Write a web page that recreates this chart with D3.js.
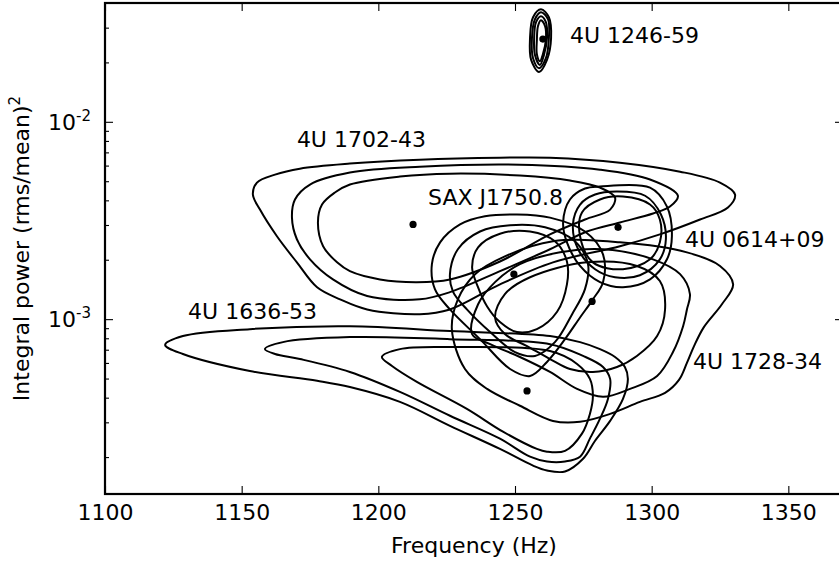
<!DOCTYPE html>
<html>
<head>
<meta charset="utf-8">
<script src="https://cdn.jsdelivr.net/npm/d3@7"></script>
<style>
  body { margin: 0; background: #fff; }
  svg text { font-family: "DejaVu Sans", sans-serif; fill: #000; }
</style>
</head>
<body>
<div id="chart"></div>
<script>
// sources and their best-fit peak (frequency in Hz, integral power)
var sources = ['4U 1246-59', '4U 1702-43', 'SAX J1750.8', '4U 0614+09', '4U 1636-53', '4U 1728-34']
var peakFreq = [1260.2, 1212.7, 1249.6, 1287.7, 1254.4, 1278.2]
var peakPower = [0.02625, 0.00302, 0.00169, 0.00292, 0.000433, 0.00123]

// confidence contours, [freq, power], outer level first
var c1246 = [
  [[1259.5,0.0372],[1262.4,0.0339],[1263.2,0.0266],[1261.7,0.0206],[1258.8,0.0179],[1255.9,0.0206],[1255.5,0.0266],[1256.6,0.0339]],
  [[1259.5,0.0359],[1262.1,0.0331],[1262.4,0.0266],[1261.3,0.0210],[1258.8,0.0187],[1256.6,0.0210],[1256.2,0.0266],[1257.3,0.0331]],
  [[1259.5,0.0343],[1261.3,0.0320],[1261.7,0.0266],[1260.6,0.0218],[1259.1,0.0194],[1257.3,0.0218],[1257.0,0.0266],[1257.7,0.0320]],
  [[1259.5,0.0327],[1261.0,0.0305],[1261.3,0.0260],[1260.2,0.0220],[1259.1,0.0203],[1258.0,0.0220],[1258.0,0.0260],[1258.4,0.0305]]
]

var c1702 = [
  [[1154.1,0.00428],[1155.6,0.00492],[1162.2,0.00540],[1171.3,0.00579],[1189.6,0.00614],[1215.2,0.00643],[1244.5,0.00658],[1262.8,0.00658],[1288.4,0.00621],[1310.4,0.00559],[1325.0,0.00492],[1330.5,0.00428],[1327.9,0.00368],[1317.7,0.00320],[1303.0,0.00269],[1288.4,0.00234],[1263.9,0.00194],[1244.5,0.00150],[1226.2,0.00112],[1215.2,0.00106],[1195.9,0.00112],[1186.0,0.00126],[1177.6,0.00145],[1170.2,0.00194],[1162.9,0.00263],[1156.7,0.00359]],
  [[1168.4,0.00327],[1169.5,0.00404],[1175.0,0.00481],[1189.6,0.00553],[1215.2,0.00592],[1251.8,0.00606],[1281.1,0.00572],[1299.4,0.00510],[1309.6,0.00422],[1306.7,0.00372],[1300.5,0.00343],[1288.4,0.00309],[1276.3,0.00278],[1262.8,0.00226],[1244.5,0.00175],[1226.2,0.00137],[1215.2,0.00126],[1195.9,0.00131],[1183.4,0.00159],[1175.0,0.00201],[1170.2,0.00254]],
  [[1177.9,0.00309],[1179.4,0.00381],[1184.1,0.00438],[1189.6,0.00481],[1207.9,0.00528],[1226.2,0.00546],[1251.8,0.00534],[1270.1,0.00504],[1281.1,0.00464],[1286.6,0.00413],[1284.8,0.00359],[1275.6,0.00320],[1262.8,0.00269],[1244.5,0.00196],[1226.2,0.00159],[1214.1,0.00154],[1200.6,0.00159],[1189.6,0.00175],[1184.9,0.00194],[1179.8,0.00234]]
]

var cSAX = [
  [[1219.6,0.00190],[1222.6,0.00245],[1229.9,0.00302],[1239.0,0.00332],[1250.7,0.00339],[1262.8,0.00327],[1275.6,0.00278],[1282.2,0.00213],[1282.2,0.00154],[1278.5,0.00126],[1273.8,0.00102],[1268.3,0.000792],[1261.7,0.000607],[1255.5,0.000515],[1248.2,0.000559],[1237.2,0.000792],[1226.2,0.00112],[1220.7,0.00142]],
  [[1226.2,0.00169],[1229.1,0.00226],[1237.2,0.00278],[1248.2,0.00299],[1261.0,0.00292],[1271.9,0.00248],[1276.7,0.00190],[1275.6,0.00142],[1270.9,0.00106],[1264.6,0.000765],[1257.3,0.000651],[1250.0,0.000681],[1240.9,0.000860],[1232.4,0.00112],[1227.3,0.00138]],
  [[1234.3,0.00183],[1236.5,0.00231],[1244.5,0.00271],[1255.5,0.00278],[1264.6,0.00248],[1269.0,0.00196],[1269.0,0.00150],[1265.4,0.00109],[1258.0,0.000890],[1250.7,0.000860],[1244.5,0.000966],[1239.8,0.00116],[1236.5,0.00145]]
]

var c0614 = [
  [[1281.1,0.00470],[1299.4,0.00464],[1305.6,0.00372],[1307.4,0.00263],[1305.6,0.00201],[1299.4,0.00159],[1289.5,0.00145],[1281.1,0.00154],[1273.8,0.00186],[1269.0,0.00245],[1267.6,0.00309],[1270.1,0.00404],[1275.6,0.00459]],
  [[1287.3,0.00443],[1297.6,0.00422],[1303.4,0.00339],[1305.2,0.00254],[1303.0,0.00201],[1295.7,0.00167],[1286.6,0.00163],[1279.3,0.00179],[1273.1,0.00226],[1271.2,0.00302],[1273.8,0.00381],[1279.3,0.00428]],
  [[1289.5,0.00418],[1299.4,0.00381],[1303.0,0.00320],[1303.0,0.00245],[1299.4,0.00201],[1289.5,0.00179],[1278.5,0.00194],[1273.8,0.00263],[1274.5,0.00347],[1281.1,0.00404]]
]

var c1636 = [
  [[1122.0,0.000740],[1128.5,0.000821],[1153.0,0.000890],[1189.6,0.000921],[1226.2,0.000870],[1262.8,0.000821],[1273.8,0.000765],[1281.1,0.000705],[1286.6,0.000643],[1290.2,0.000572],[1291.3,0.000498],[1289.5,0.000394],[1284.8,0.000305],[1279.3,0.000242],[1274.9,0.000196],[1268.3,0.000169],[1261.7,0.000171],[1256.6,0.000181],[1244.5,0.000220],[1226.2,0.000288],[1207.9,0.000381],[1189.6,0.000453],[1177.6,0.000487],[1153.0,0.000546],[1128.5,0.000666]],
  [[1158.5,0.000705],[1165.1,0.000765],[1189.6,0.000811],[1226.2,0.000792],[1262.8,0.000747],[1274.9,0.000651],[1282.2,0.000572],[1284.8,0.000498],[1284.0,0.000394],[1281.1,0.000313],[1277.4,0.000248],[1273.8,0.000201],[1268.3,0.000190],[1261.7,0.000190],[1255.5,0.000201],[1244.5,0.000248],[1226.2,0.000324],[1207.9,0.000428],[1189.6,0.000540],[1171.3,0.000628],[1162.2,0.000666]],
  [[1201.3,0.000643],[1207.9,0.000705],[1226.2,0.000722],[1262.8,0.000689],[1272.7,0.000593],[1277.4,0.000498],[1278.5,0.000409],[1277.4,0.000331],[1274.5,0.000263],[1268.3,0.000215],[1261.7,0.000213],[1258.0,0.000220],[1245.6,0.000269],[1232.4,0.000351],[1214.1,0.000481],[1205.0,0.000579]]
]

var c1728 = [
  [[1226.9,0.000890],[1229.1,0.00126],[1235.4,0.00169],[1246.3,0.00208],[1263.9,0.00248],[1288.4,0.00245],[1312.9,0.00218],[1325.0,0.00186],[1329.8,0.00150],[1325.7,0.00119],[1319.1,0.000911],[1315.5,0.000730],[1312.9,0.000600],[1310.0,0.000492],[1304.9,0.000423],[1295.7,0.000381],[1284.8,0.000331],[1273.8,0.000302],[1263.9,0.000305],[1251.8,0.000364],[1239.8,0.000443],[1231.7,0.000559]],
  [[1234.3,0.000840],[1236.5,0.00119],[1242.7,0.00154],[1251.8,0.00190],[1266.5,0.00218],[1282.2,0.00226],[1300.5,0.00201],[1310.4,0.00169],[1314.0,0.00134],[1312.9,0.00112],[1311.5,0.000921],[1307.8,0.000681],[1302.0,0.000515],[1292.1,0.000443],[1282.2,0.000404],[1272.7,0.000443],[1262.8,0.000540],[1251.8,0.000643],[1240.9,0.000747]],
  [[1242.7,0.00102],[1246.3,0.00134],[1255.5,0.00163],[1276.3,0.00194],[1294.6,0.00186],[1303.0,0.00156],[1304.9,0.00112],[1302.0,0.000821],[1294.6,0.000651],[1287.3,0.000572],[1278.5,0.000540],[1270.1,0.000559],[1262.8,0.000628],[1254.4,0.000730],[1246.3,0.000840]]
]

var xTicks = [1100, 1150, 1200, 1250, 1300, 1350]
var yMajor = [1e-3, 1e-2]
var yMajorExp = ['-3', '-2']
var yMinor = [2e-4, 3e-4, 4e-4, 5e-4, 6e-4, 7e-4, 8e-4, 9e-4,
              2e-3, 3e-3, 4e-3, 5e-3, 6e-3, 7e-3, 8e-3, 9e-3,
              2e-2, 3e-2]

function draw_contours(){
  var margin = {top: 3, right: -4, bottom: 69, left: 105},
      width = 839 - margin.left - margin.right,
      height = 563 - margin.top - margin.bottom;

  var xScale = d3.scaleLinear().domain([1100, 1370]).range([0, width]);
  var yScale = d3.scaleLog().domain([1.3e-4, 4e-2]).range([height, 0]);

  var svg = d3.select('#chart').append('svg')
      .attr('width', 839)
      .attr('height', 563)
    .append('g')
      .attr('transform', 'translate(' + margin.left + ',' + margin.top + ')');

  svg.append('clipPath').attr('id', 'plot-clip')
    .append('rect').attr('width', width).attr('height', height);

  var line = d3.line()
      .x(function(d){ return xScale(d[0]); })
      .y(function(d){ return yScale(d[1]); })
      .curve(d3.curveCatmullRomClosed.alpha(0.5));

  var plot = svg.append('g').attr('clip-path', 'url(#plot-clip)');

  var all_contours = [c1246, c1702, cSAX, c0614, c1636, c1728];
  all_contours.forEach(function(levels){
    plot.selectAll(null)
      .data(levels)
      .enter().append('path')
        .attr('d', line)
        .attr('fill', 'none')
        .attr('stroke', '#000')
        .attr('stroke-width', 2)
        .attr('stroke-linejoin', 'round');
  });

  plot.selectAll('circle.peak')
    .data(peakFreq)
    .enter().append('circle')
      .attr('class', 'peak')
      .attr('cx', function(d){ return xScale(d); })
      .attr('cy', function(d, i){ return yScale(peakPower[i]); })
      .attr('r', 3.6)
      .style('fill', '#000');

  // where each name sits (left end of baseline), in data units
  var labelAnchor = [[1270.1, 0.0251], [1170.2, 0.00748], [1218.2, 0.00381],
                     [1312.2, 0.00231], [1130.4, 0.00100], [1315.1, 0.000559]];

  svg.selectAll('text.src')
    .data(sources)
    .enter().append('text')
      .attr('class', 'src')
      .attr('x', function(d, i){ return xScale(labelAnchor[i][0]); })
      .attr('y', function(d, i){ return yScale(labelAnchor[i][1]); })
      .attr('font-size', '22px')
      .text(function(d){ return d; });

  // axes, ticks pointing inward on all four sides
  svg.append('g')
      .attr('class', 'xaxis')
      .attr('transform', 'translate(0,' + height + ')')
      .call(d3.axisBottom(xScale).tickValues(xTicks).tickSize(-8).tickPadding(10).tickFormat(d3.format('d')));

  svg.append('g')
      .attr('class', 'xaxis-top')
      .call(d3.axisTop(xScale).tickValues(xTicks).tickSize(-8).tickFormat(''));

  svg.append('g')
      .attr('class', 'yaxis')
      .call(d3.axisLeft(yScale).tickValues(yMajor).tickSize(-8).tickFormat(''));
  svg.append('g')
      .attr('class', 'yaxis')
      .call(d3.axisLeft(yScale).tickValues(yMinor).tickSize(-4).tickFormat(''));
  svg.append('g')
      .attr('class', 'yaxis')
      .attr('transform', 'translate(' + width + ',0)')
      .call(d3.axisRight(yScale).tickValues(yMajor).tickSize(-8).tickFormat(''));
  svg.append('g')
      .attr('class', 'yaxis')
      .attr('transform', 'translate(' + width + ',0)')
      .call(d3.axisRight(yScale).tickValues(yMinor).tickSize(-4).tickFormat(''));

  svg.selectAll('path.domain').remove();
  svg.selectAll('.tick line').style('stroke', '#000').style('stroke-width', '1.1px');
  svg.selectAll('.xaxis text')
    .attr('font-family', null)
    .style('font-size', '22px')
    .style('fill', '#000');

  // 10^n labels
  var yLab = svg.selectAll('text.ylab')
    .data(yMajor)
    .enter().append('text')
      .attr('class', 'ylab')
      .attr('text-anchor', 'end')
      .attr('x', -14)
      .attr('y', function(d){ return yScale(d) + 8; })
      .style('font-size', '22px');
  yLab.append('tspan').text('10');
  yLab.append('tspan')
      .attr('dy', -9)
      .style('font-size', '15px')
      .text(function(d, i){ return yMajorExp[i]; });

  svg.append('rect')
      .attr('width', width)
      .attr('height', height)
      .attr('fill', 'none')
      .attr('stroke', '#000')
      .attr('stroke-width', 2.2);

  svg.append('text')
      .attr('text-anchor', 'middle')
      .attr('x', width / 2)
      .attr('y', height + 59)
      .style('font-size', '22px')
      .text('Frequency (Hz)');

  var ylabel = svg.append('text')
      .attr('text-anchor', 'middle')
      .attr('transform', 'translate(' + (-76) + ',' + (height / 2) + ') rotate(-90)')
      .style('font-size', '22px');
  ylabel.append('tspan').text('Integral power (rms/mean)');
  ylabel.append('tspan').attr('dy', -9).style('font-size', '15px').text('2');
}

draw_contours();
</script>
</body>
</html>
